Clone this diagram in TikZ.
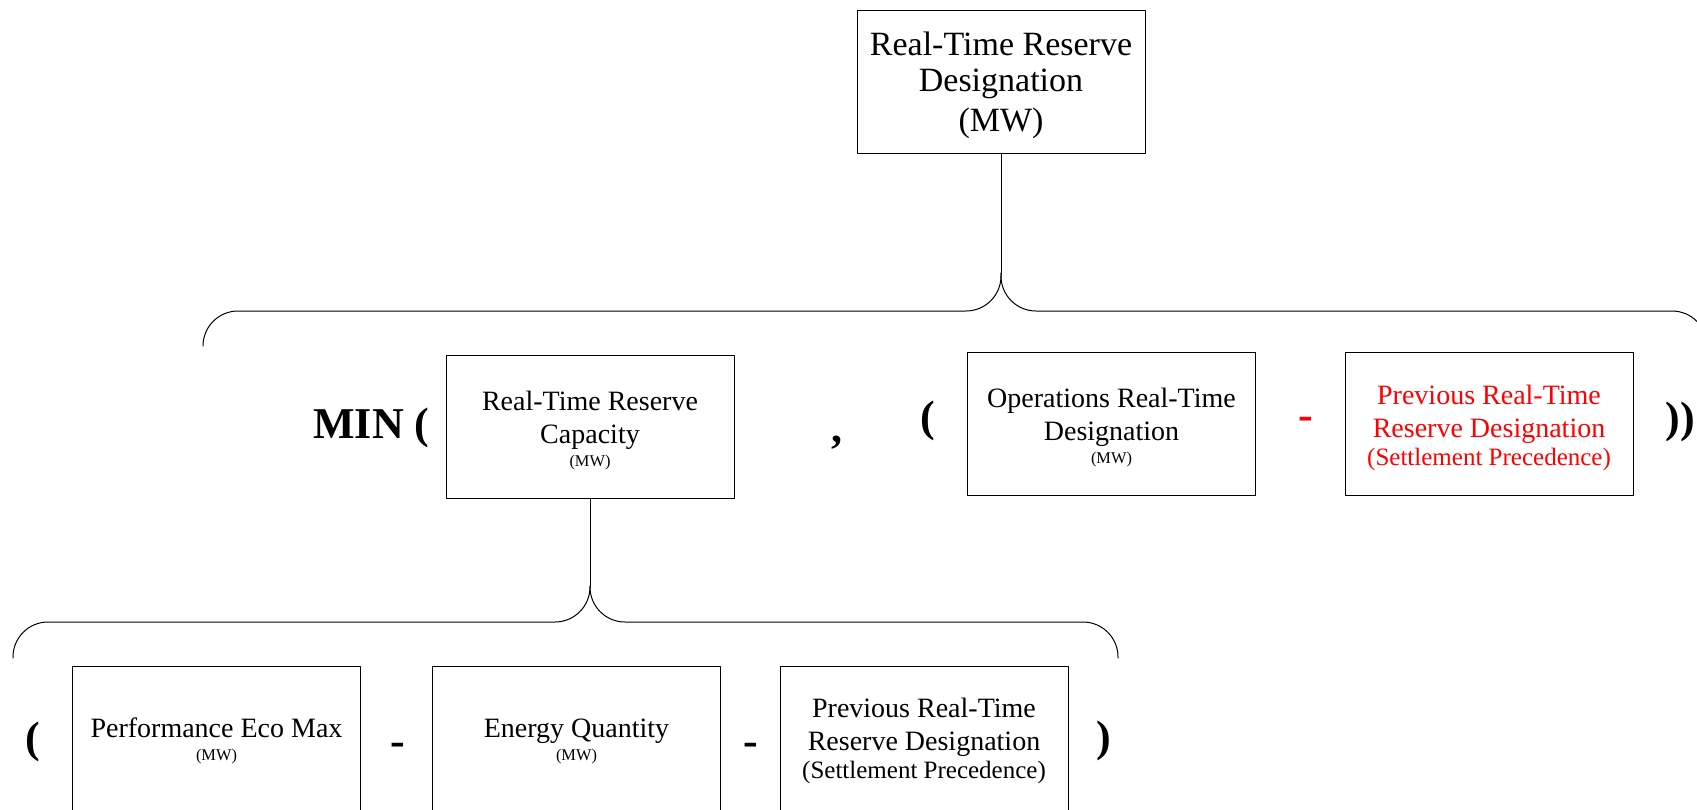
\documentclass[tikz,border=0pt]{standalone}
\usepackage{fontspec}
\setmainfont{Liberation Serif}
\begin{document}
\begin{tikzpicture}[x=0.5pt,y=-0.5pt,line width=0.5pt,line join=round,line cap=round,
  box/.style={draw,minimum width=144pt,minimum height=71.5pt,inner sep=0pt,align=center,font=\fontsize{14}{16.5}\selectfont},
  op/.style={inner sep=0pt,font=\fontsize{22}{26}\selectfont\bfseries},
  brace/.style={rounded corners=17.5pt}]
\def\hi{\rule{0pt}{13.5pt}}
\def\mw{\\[-5pt]{\fontsize{8.2}{10}\selectfont (MW)}}
\def\sp{\\[-2.7pt]{\fontsize{12.5}{14}\selectfont (Settlement Precedence)}}
\useasboundingbox (0,0) rectangle (1697,809);
% top
\node[box,font=\fontsize{17}{18}\selectfont] (rtrd) at (1001,81.5) {\rule{0pt}{16pt}Real-Time Reserve\\Designation\\[2pt](MW)};
% middle row
\node[op,anchor=base] (min) at (371.5,438) {MIN (};
\node[box] (cap) at (590,427) {\hi Real-Time Reserve\\Capacity\mw};
\node[op,anchor=base] (comma) at (837,442) {,};
\node[op] (lpa) at (927.5,421) {(};
\node[box] (ops) at (1111.5,424) {\hi Operations Real-Time\\Designation\mw};
\node[op,anchor=base,text=red] (minus) at (1306,429) {-};
\node[box,text=red] (prev) at (1489,424) {\hi Previous Real-Time\\Reserve Designation\sp};
\node[op] (rpa) at (1680,421.5) {))};
% bottom row
\node[op] (lpb) at (32.5,741.5) {(};
\node[box,minimum height=75pt] (eco) at (216.5,741) {Performance Eco Max\mw};
\node[op,anchor=base] (m1) at (397.5,755.5) {-};
\node[box,minimum height=75pt] (eq) at (576.5,741) {Energy Quantity\mw};
\node[op,anchor=base] (m2) at (751,755.5) {-};
\node[box,minimum height=75pt] (prevb) at (924,741) {Previous Real-Time\\Reserve Designation\sp};
\node[op] (rpb) at (1104,741) {)};
% braces
\coordinate (tipA) at (1001,273);
\coordinate (midA) at (1001,311);
\coordinate (bla) at (203,346);
\coordinate (bra) at (1707,346);
\coordinate (tipB) at (590,586);
\coordinate (midB) at (590,622);
\coordinate (blb) at (13,658);
\coordinate (brb) at (1118,658);
\draw (rtrd.south) -- (tipA);
\draw[brace] (bla) |- (midA) -- (tipA);
\draw[brace] (tipA) -- (midA) -| (bra);
\draw (cap.south) -- (tipB);
\draw[brace] (blb) |- (midB) -- (tipB);
\draw[brace] (tipB) -- (midB) -| (brb);
\end{tikzpicture}
\end{document}
